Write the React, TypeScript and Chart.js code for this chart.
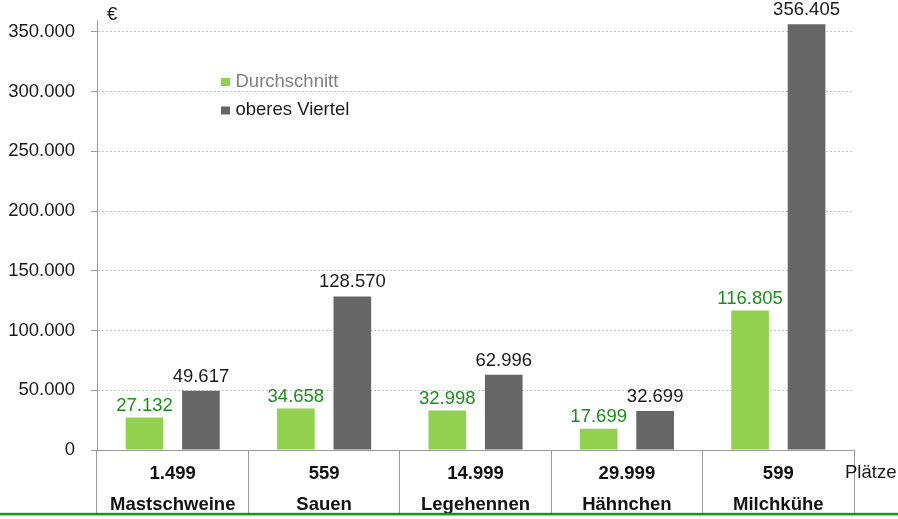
import { useEffect, useRef } from 'react';
import { Chart, registerables } from 'chart.js';

Chart.register(...registerables);

const categories = ['Mastschweine', 'Sauen', 'Legehennen', 'Hähnchen', 'Milchkühe'];
const places = ['1.499', '559', '14.999', '29.999', '599'];
const averageValues = [27132, 34658, 32998, 17699, 116805];
const topQuarterValues = [49617, 128570, 62996, 32699, 356405];
const seriesNames = ['Durchschnitt', 'oberes Viertel'];
const seriesColors = ['#92D050', '#666666'];
const labelColors = ['#1b8f1b', '#1a1a1a'];
const legendTextColors = ['#808080', '#1a1a1a'];
const yMin = 0;
const yMax = 360000;
const yTickValues = [0, 50000, 100000, 150000, 200000, 250000, 300000, 350000];
const unitLabel = '€';
const placesLabel = 'Plätze';

const FONT = "'Liberation Sans', Arial, Helvetica, sans-serif";
const SIZE = 18.5;

const fmt = (v: number) => String(Math.round(v)).replace(/\B(?=(\d{3})+(?!\d))/g, '.');

const overlay = {
  id: 'overlay',
  afterDatasetsDraw(chart: any) {
    const ctx = chart.ctx as CanvasRenderingContext2D;
    ctx.save();
    ctx.font = `${SIZE}px ${FONT}`;
    ctx.textAlign = 'center';
    ctx.textBaseline = 'alphabetic';
    chart.data.datasets.forEach((ds: any, di: number) => {
      const meta = chart.getDatasetMeta(di);
      meta.data.forEach((bar: any, i: number) => {
        ctx.fillStyle = labelColors[di];
        ctx.fillText(fmt(ds.data[i]), bar.x, bar.y - (di === 0 ? 6.5 : 9));
      });
    });

    // legend
    const area = chart.chartArea;
    const lx = area.left + 124;
    const rows = [86.5, 115];
    ctx.textAlign = 'left';
    chart.data.datasets.forEach((ds: any, di: number) => {
      const by = rows[di];
      ctx.fillStyle = ds.backgroundColor;
      ctx.fillRect(lx, by - 8.5, 9, 8);
      ctx.fillStyle = legendTextColors[di];
      ctx.fillText(ds.label, lx + 14.5, by);
    });

    // unit label and places label
    ctx.fillStyle = '#1a1a1a';
    ctx.fillText(unitLabel, area.left + 10, 20);
    ctx.fillText(placesLabel, area.right - 9, 478);
    ctx.restore();
  },
  afterDraw(chart: any) {
    const ctx = chart.ctx as CanvasRenderingContext2D;
    ctx.save();
    ctx.fillStyle = '#149614';
    ctx.fillRect(0, 512.8, chart.width, 2.6);
    ctx.restore();
  },
};

export default function App() {
  const ref = useRef<HTMLCanvasElement | null>(null);

  useEffect(() => {
    const canvas = ref.current;
    if (!canvas) return;
    const chart = new Chart(canvas, {
      type: 'bar',
      data: {
        labels: categories,
        datasets: [
          {
            label: seriesNames[0],
            data: averageValues,
            backgroundColor: seriesColors[0],
            categoryPercentage: 0.746,
            barPercentage: 0.667,
          },
          {
            label: seriesNames[1],
            data: topQuarterValues,
            backgroundColor: seriesColors[1],
            categoryPercentage: 0.746,
            barPercentage: 0.667,
          },
        ],
      },
      options: {
        responsive: false,
        animation: false,
        devicePixelRatio: 1,
        layout: { padding: { left: 0, right: 44, top: 20, bottom: 0 } },
        plugins: {
          legend: { display: false },
          tooltip: { enabled: false },
          title: { display: false },
        },
        scales: {
          x: {
            type: 'category',
            offset: true,
            afterFit: (s: any) => {
              s.height = 69;
              s.paddingLeft = 0;
              s.paddingRight = 0;
            },
            grid: {
              offset: true,
              drawOnChartArea: false,
              drawTicks: true,
              tickLength: 65,
              color: '#9a9a9a',
              tickColor: '#9a9a9a',
            },
            border: { display: true, color: '#9a9a9a', width: 1 },
            ticks: {
              autoSkip: false,
              maxRotation: 0,
              minRotation: 0,
              padding: -56,
              color: '#111111',
              font: { family: FONT, size: SIZE, weight: 'bold', lineHeight: 30.5 / SIZE },
              callback: (_v: any, i: number) => [places[i], categories[i]],
            },
          },
          y: {
            type: 'linear',
            min: yMin,
            max: yMax,
            bounds: 'data',
            afterBuildTicks: (s: any) => {
              s.ticks = yTickValues.map((v) => ({ value: v }));
            },
            afterFit: (s: any) => {
              s.width = 97;
              s.paddingTop = 0;
              s.paddingBottom = 0;
            },
            grid: {
              color: '#c6c6c6',
              tickColor: '#9a9a9a',
              tickLength: 6,
              drawTicks: true,
            },
            border: { display: true, color: '#9a9a9a', width: 1, dash: [2, 2] },
            ticks: {
              padding: 16,
              color: '#1a1a1a',
              font: { family: FONT, size: SIZE },
              callback: (v: any) => fmt(Number(v)),
            },
          },
        },
      },
      plugins: [overlay],
    } as any);
    return () => chart.destroy();
  }, []);

  return (
    <div style={{ position: 'absolute', left: 0, top: 0, width: 898, height: 519 }}>
      <canvas ref={ref} width={898} height={519} style={{ display: 'block', width: 898, height: 519 }} />
    </div>
  );
}
